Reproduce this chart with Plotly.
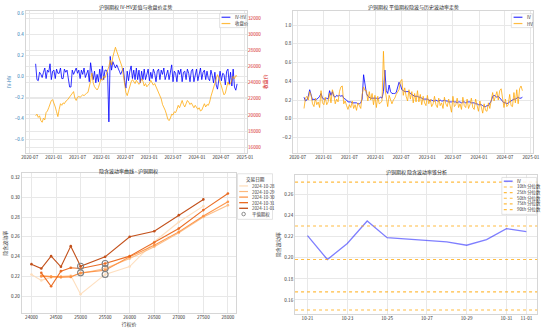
import pandas as pd
import plotly.graph_objects as go

W, H = 550, 329

# ---------------- 沪铜期权：平值隐含波动率 / 历史波动率 / 标的收盘价（每 10 日取样） ----------------
close_price = [
    19900, 20100, 19700, 19900, 19300, 19100, 19600, 19400, 20300, 20500,
    20900, 21300, 21800, 21900, 21500, 21000, 20400, 19800, 20700, 21400,
    21200, 21500, 21400, 21700, 21800, 22000, 22200, 22500, 22700, 22900,
    22100, 21800, 22200, 22300, 22200, 22400, 22500, 22400, 22600, 22700,
    22800, 23400, 24200, 25200, 24000, 23500, 23300, 23100, 23400, 23900,
    24500, 24300, 24800, 24600, 25100, 25500, 26000, 26800, 26200, 27200,
    27800, 28400, 27900, 27400, 26900, 26500, 26000, 25000, 24000, 22800,
    22400, 23000, 23600, 24100, 24400, 24200, 23900, 24300, 24100, 23800,
    24000, 24500, 24200, 23600, 23900, 23500, 23700, 23900, 24300, 24000,
    23700, 23900, 23500, 23000, 22700, 22400, 22000, 21300, 21000, 20600,
    20100, 19500, 19300, 19600, 20100, 20000, 20400, 20300, 20700, 21200,
    20900, 21500, 21800, 21300, 21000, 21400, 21800, 21600, 21300, 21500,
    21100, 20900, 21200, 21000, 20700, 20900, 20500, 20600, 21000, 21400,
    21000, 21300, 21200, 21600, 22300, 22900, 23400, 23900, 24500, 25000,
    24600, 24200, 23600, 23000, 22500, 22700, 23400, 24100, 23700, 23900,
    24400, 24800, 24500, 24900, 24800,
]
atm_iv = [
    0.23, 0.19, 0.20, 0.24, 0.31, 0.24, 0.20, 0.21, 0.20, 0.21,
    0.22, 0.24, 0.27, 0.22, 0.21, 0.21, 0.22, 0.21, 0.30, 0.25,
    0.29, 0.24, 0.23, 0.25, 0.24, 0.25, 0.24, 0.25, 0.22, 0.21,
    0.20, 0.18, 0.18, 0.18, 0.17, 0.17, 0.17, 0.17, 0.16, 0.16,
    0.17, 0.21, 0.47, 0.34, 0.27, 0.24, 0.23, 0.22, 0.22, 0.22,
    0.22, 0.22, 0.21, 0.22, 0.23, 0.22, 0.29, 0.52, 0.30, 0.27,
    0.36, 0.29, 0.27, 0.27, 0.27, 0.28, 0.33, 0.39, 0.36, 0.31,
    0.30, 0.29, 0.29, 0.29, 0.29, 0.27, 0.26, 0.25, 0.24, 0.24,
    0.24, 0.23, 0.23, 0.22, 0.21, 0.21, 0.21, 0.21, 0.20, 0.19,
    0.20, 0.19, 0.19, 0.20, 0.19, 0.19, 0.20, 0.19, 0.19, 0.20,
    0.19, 0.19, 0.18, 0.18, 0.18, 0.19, 0.18, 0.18, 0.17, 0.18,
    0.18, 0.17, 0.18, 0.18, 0.17, 0.18, 0.18, 0.18, 0.17, 0.17,
    0.17, 0.16, 0.16, 0.15, 0.15, 0.15, 0.14, 0.13, 0.13, 0.14,
    0.14, 0.16, 0.19, 0.24, 0.25, 0.24, 0.23, 0.24, 0.22, 0.20,
    0.18, 0.17, 0.17, 0.16, 0.17, 0.18, 0.19, 0.20, 0.21, 0.21,
    0.22, 0.23, 0.22, 0.22, 0.23,
]
hist_vol = [
    0.11, 0.22, 0.24, 0.20, 0.29, 0.25, 0.16, 0.13, 0.22, 0.15,
    0.18, 0.12, 0.30, 0.17, 0.15, 0.23, 0.15, 0.18, 0.27, 0.17,
    0.31, 0.26, 0.16, 0.21, 0.18, 0.29, 0.34, 0.35, 0.16, 0.19,
    0.14, 0.10, 0.15, 0.12, 0.19, 0.11, 0.15, 0.09, 0.17, 0.13,
    0.11, 0.26, 0.34, 0.30, 0.30, 0.19, 0.29, 0.20, 0.27, 0.15,
    0.25, 0.12, 0.24, 0.16, 0.17, 0.19, 0.72, 0.33, 0.24, 0.13,
    0.25, 0.21, 0.16, 0.20, 0.22, 0.26, 0.28, 0.31, 0.40, 0.42,
    0.25, 0.33, 0.24, 0.19, 0.31, 0.21, 0.29, 0.17, 0.27, 0.18,
    0.30, 0.18, 0.26, 0.15, 0.24, 0.17, 0.14, 0.25, 0.16, 0.21,
    0.13, 0.16, 0.24, 0.15, 0.12, 0.22, 0.14, 0.17, 0.11, 0.23,
    0.16, 0.13, 0.21, 0.14, 0.07, 0.24, 0.13, 0.15, 0.22, 0.12,
    0.16, 0.10, 0.23, 0.14, 0.12, 0.21, 0.11, 0.15, 0.22, 0.12,
    0.10, 0.21, 0.13, 0.08, 0.19, 0.11, 0.06, 0.16, 0.09, 0.08,
    0.17, 0.11, 0.21, 0.28, 0.19, 0.23, 0.29, 0.20, 0.30, 0.32,
    0.22, 0.12, 0.21, 0.13, 0.15, 0.26, 0.14, 0.13, 0.28, 0.17,
    0.31, 0.16, 0.32, 0.35, 0.30,
]
obs_dates = pd.date_range("2020-08-15", "2024-11-02", periods=len(close_price))
iv_minus_hv = [round(a - b, 4) for a, b in zip(atm_iv, hist_vol)]

# ---------------- 隐含波动率曲线（按交易日期） ----------------
strikes = [24000, 24200, 24400, 24600, 24800, 25000, 25500, 26000, 26500, 27000, 27500, 28000]
trade_dates = ["2024-10-28", "2024-10-29", "2024-10-30", "2024-10-31", "2024-11-01"]
smile_iv = {
    "2024-10-28": [0.222, 0.216, 0.219, 0.220, 0.221, 0.202, 0.222, 0.230, 0.255, 0.275, 0.291, None],
    "2024-10-29": [None, 0.221, 0.220, 0.219, 0.220, 0.223, 0.228, 0.238, 0.250, 0.264, 0.280, 0.292],
    "2024-10-30": [None, 0.220, 0.2195, 0.2195, 0.2195, 0.2236, 0.2263, 0.2398, 0.2516, 0.265, 0.281, 0.2954],
    "2024-10-31": [None, 0.2236, 0.210, 0.2253, 0.2287, 0.228, 0.233, 0.2405, 0.2543, 0.2684, 0.287, 0.3038],
    "2024-11-01": [0.2324, 0.228, 0.2405, 0.2297, 0.2506, 0.2303, 0.2398, 0.260, 0.2657, 0.2819, 0.2978, None],
}
atm_strike = {"2024-10-28": 25500, "2024-10-29": 25500, "2024-10-30": 25000,
              "2024-10-31": 25500, "2024-11-01": 25000}
date_colors = ["#fedcb8", "#fdb87c", "#fd8d3c", "#e95e0d", "#bd3e02"]

# ---------------- 隐含波动率锥 ----------------
cone_dates = ["2024-10-21", "2024-10-22", "2024-10-23", "2024-10-24", "2024-10-25",
              "2024-10-28", "2024-10-29", "2024-10-30", "2024-10-31", "2024-11-01"]
cone_iv = [0.2211, 0.1984, 0.2136, 0.2350, 0.2192, 0.2151, 0.2120, 0.2173, 0.2278, 0.2249]
quantile_names = ["10th 分位数", "25th 分位数", "50th 分位数", "75th 分位数", "90th 分位数"]
quantile_values = [0.1504, 0.1677, 0.1984, 0.2303, 0.2720]
cone_ticks = ["2024-10-21", "2024-10-23", "2024-10-25", "2024-10-27", "2024-10-29", "2024-10-31", "2024-11-01"]

FONT = "Noto Sans CJK SC, DejaVu Sans, sans-serif"
TICK = dict(size=4.6, color="#333333", family=FONT)
BLUE = "rgba(0,0,255,0.8)"
ORANGE = "rgba(255,165,0,0.75)"
TAB_BLUE = "#1f77b4"
TAB_RED = "#d62728"


def px(x):
    return x / W


def py(y):
    return 1 - y / H


def base_axis(**kw):
    d = dict(showgrid=True, gridcolor="#e8e8e8", gridwidth=0.8, showline=True,
             linecolor="#d6d6d6", linewidth=0.8, mirror=True, ticks="",
             zeroline=False, tickfont=TICK, title_font=dict(size=5, family=FONT, color="#333"))
    d.update(kw)
    return d


fig = go.Figure()

# 左上：IV-HV 与收盘价
fig.add_trace(go.Scatter(x=obs_dates, y=iv_minus_hv, mode="lines", name="IV-HV",
                         line=dict(color=BLUE, width=1), xaxis="x", yaxis="y"))
fig.add_trace(go.Scatter(x=obs_dates, y=close_price, mode="lines", name="收盘价",
                         line=dict(color=ORANGE, width=1), xaxis="x", yaxis="y2"))

# 右上：IV 与 HV
fig.add_trace(go.Scatter(x=obs_dates, y=atm_iv, mode="lines", name="IV",
                         line=dict(color=BLUE, width=1), xaxis="x2", yaxis="y3"))
fig.add_trace(go.Scatter(x=obs_dates, y=hist_vol, mode="lines", name="HV",
                         line=dict(color=ORANGE, width=1), xaxis="x2", yaxis="y3"))

# 左下：波动率曲线
for d, c in zip(trade_dates, date_colors):
    fig.add_trace(go.Scatter(x=strikes, y=smile_iv[d], mode="lines+markers", name=d,
                             line=dict(color=c, width=1.1), marker=dict(color=c, size=2.6),
                             opacity=0.9, xaxis="x3", yaxis="y4"))
atm_x = [atm_strike[d] for d in trade_dates]
atm_y = [smile_iv[d][strikes.index(atm_strike[d])] for d in trade_dates]
fig.add_trace(go.Scatter(x=atm_x, y=atm_y, mode="markers", name="平值期权",
                         marker=dict(symbol="circle-open", size=6, color="#7f7f7f",
                                     line=dict(width=1.1)),
                         xaxis="x3", yaxis="y4"))

# 右下：波动率锥
fig.add_trace(go.Scatter(x=cone_dates, y=cone_iv, mode="lines", name="IV",
                         line=dict(color="rgba(0,0,255,0.5)", width=1.3), xaxis="x4", yaxis="y5"))
for v in quantile_values:
    fig.add_shape(type="line", xref="x4 domain", yref="y5", x0=0, x1=1, y0=v, y1=v,
                  line=dict(color="rgba(255,165,0,0.75)", width=1.1, dash="dot"), layer="above")

fig.update_layout(
    width=W, height=H, margin=dict(l=0, r=0, t=0, b=0),
    paper_bgcolor="white", plot_bgcolor="white", showlegend=False,
    font=dict(family=FONT, size=5, color="#333"),
    xaxis=base_axis(domain=[px(22), px(248)], anchor="y", type="date",
                    range=["2020-05-30", "2025-01-17"], dtick="M6", tick0="2020-07-01",
                    tickformat="%Y-%m"),
    yaxis=base_axis(domain=[py(152), py(10)], anchor="x", range=[-0.72, 0.62],
                    dtick=0.2, tickformat=".1f", tickfont=dict(size=4.6, color=TAB_BLUE, family=FONT),
                    title=dict(text="IV-HV", font=dict(size=5, color=TAB_BLUE, family=FONT), standoff=3)),
    yaxis2=base_axis(overlaying="y", side="right", anchor="x", range=[15345, 32900],
                     dtick=2000, tickformat="d", mirror=False, showline=False,
                     tickfont=dict(size=4.6, color=TAB_RED, family=FONT),
                     title=dict(text="收盘价", font=dict(size=5, color=TAB_RED, family=FONT), standoff=3)),
    xaxis2=base_axis(domain=[px(295), px(540)], anchor="y3", type="date",
                     range=["2020-05-30", "2025-01-17"], dtick="M6", tick0="2020-07-01",
                     tickformat="%Y-%m"),
    yaxis3=base_axis(domain=[py(152), py(10)], anchor="x2", range=[-0.36, 1.15],
                     dtick=0.2, tickformat=".1f"),
    xaxis3=base_axis(domain=[px(18), px(237)], anchor="y4", range=[23800, 28170],
                     tickvals=[24000, 24500, 25000, 25500, 26000, 26500, 27000, 27500, 28000],
                     tickformat="d", title=dict(text="行权价", standoff=2)),
    yaxis4=base_axis(domain=[py(313), py(173)], anchor="x3", range=[0.183, 0.324],
                     dtick=0.02, tickformat=".2f", title=dict(text="隐含波动率", standoff=3)),
    xaxis4=base_axis(domain=[px(297), px(544)], anchor="y5", type="date",
                     range=["2024-10-20 09:00", "2024-11-01 13:00"],
                     tickvals=cone_ticks, ticktext=[t[5:] for t in cone_ticks]),
    yaxis5=base_axis(domain=[py(314), py(175)], anchor="x4", range=[0.1466, 0.2783],
                     dtick=0.02, tickformat=".2f", title=dict(text="隐含波动率", standoff=3)),
)

# 子图标题
titles = [
    ("沪铜期权 IV-HV差值与收盘价走势", 135, 6),
    ("沪铜期权 平值期权隐波与历史波动率走势", 417.5, 6),
    ("隐含波动率曲线 - 沪铜期权", 127.5, 170.5),
    ("沪铜期权 隐含波动率锥分析", 420.5, 171.5),
]
for text, x, y in titles:
    fig.add_annotation(text=text, x=px(x), y=py(y), xref="paper", yref="paper",
                       showarrow=False, xanchor="center", yanchor="middle",
                       font=dict(size=5, color="#222", family=FONT))


def draw_legend(box, entries, title=None, x_line=None, title_y=None):
    x0, y0, x1, y1 = box
    fig.add_shape(type="rect", xref="paper", yref="paper", x0=px(x0), x1=px(x1),
                  y0=py(y1), y1=py(y0), fillcolor="rgba(255,255,255,0.85)",
                  line=dict(color="#d0d0d0", width=0.6), layer="above")
    if title:
        fig.add_annotation(text=title, x=px((x0 + x1) / 2), y=py(title_y), xref="paper", yref="paper",
                           showarrow=False, xanchor="center", yanchor="middle",
                           font=dict(size=4.6, color="#222", family=FONT))
    for label, y, color, dash, width, kind in entries:
        if kind == "line":
            fig.add_shape(type="line", xref="paper", yref="paper", x0=px(x_line), x1=px(x_line + 9),
                          y0=py(y), y1=py(y), line=dict(color=color, width=width, dash=dash),
                          layer="above")
        else:
            r = 1.8
            cx = x_line + 4.5
            fig.add_shape(type="circle", xref="paper", yref="paper", x0=px(cx - r), x1=px(cx + r),
                          y0=py(y + r), y1=py(y - r), line=dict(color=color, width=0.9),
                          layer="above")
        fig.add_annotation(text=label, x=px(x_line + 11.5), y=py(y), xref="paper", yref="paper",
                           showarrow=False, xanchor="left", yanchor="middle",
                           font=dict(size=4.4, color="#333", family=FONT))


draw_legend((220, 12.7, 247, 26.7),
            [("IV-HV", 16.3, BLUE, "solid", 1.2, "line"),
             ("收盘价", 22.6, ORANGE, "solid", 1.2, "line")], x_line=222)
draw_legend((517.7, 12.7, 539.3, 26.7),
            [("IV", 16.3, BLUE, "solid", 1.2, "line"),
             ("HV", 22.6, ORANGE, "solid", 1.2, "line")], x_line=520)
bl_entries = [(d, 185.5 + 5.6 * i, c, "solid", 1.2, "line") for i, (d, c) in enumerate(zip(trade_dates, date_colors))]
bl_entries.append(("平值期权", 213.7, "#7f7f7f", "solid", 1, "circle"))
draw_legend((238.3, 173.3, 274, 219), bl_entries, title="交易日期", x_line=240, title_y=178.6)
br_entries = [("IV", 180.8, "rgba(0,0,255,0.5)", "solid", 1.6, "line")]
br_entries += [(n, 186.5 + 5.68 * i, "rgba(255,165,0,0.75)", "dot", 1.1, "line")
               for i, n in enumerate(quantile_names)]
draw_legend((508, 177, 543.5, 214), br_entries, x_line=510)

fig.write_html("out.html")
